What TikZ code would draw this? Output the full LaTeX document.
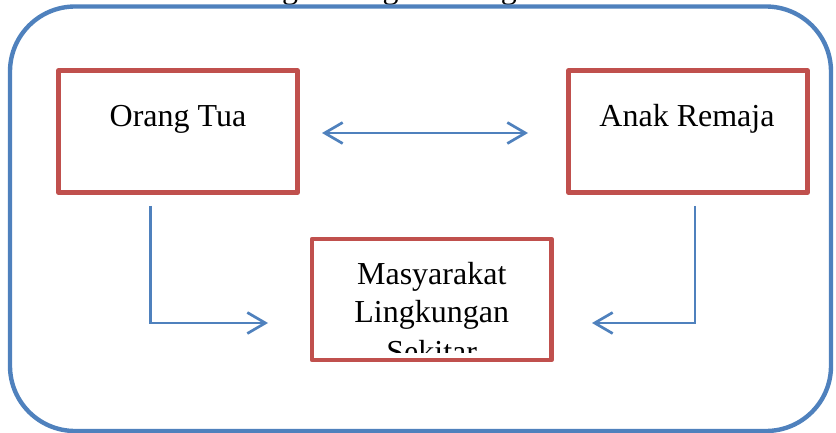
\documentclass[tikz,border=0pt]{standalone}
\usepackage{fontspec}
\setmainfont{Liberation Serif}
\usetikzlibrary{arrows.meta}
\definecolor{boxred}{HTML}{C0504D}
\definecolor{linkblue}{HTML}{4F81BD}
\tikzset{
  frame/.style={draw=linkblue, line width=4.4pt, rounded corners=65pt},
  redbox/.style={draw=boxred, line width=4.6pt, line join=round, inner sep=0pt, outer sep=0pt},
  boxtext/.style={font=\fontsize{32}{38}\selectfont, inner sep=0pt, anchor=base},
  tipbarb/.tip={Straight Barb[length=18pt,width=21pt]},
  link/.style={draw=linkblue, line width=2.7pt, arrows={-tipbarb}},
  dlink/.style={draw=linkblue, line width=2.7pt, arrows={tipbarb-tipbarb}}
}
\begin{document}
\begin{tikzpicture}[x=1pt,y=-1pt]
\useasboundingbox (0,0) rectangle (836,433);
% clipped title at top edge
\node[boxtext, anchor=base west] (title) at (250,-1.5) {ungan dengan Orang Tua};
% outer frame
\draw[frame] (10,6.5) rectangle (831,431);
% boxes
\node[redbox, minimum width=239pt, minimum height=122pt] (ot) at (178,131.5) {};
\node[redbox, minimum width=239pt, minimum height=122pt] (ar) at (688,131.5) {};
\begin{scope}
  \clip (312,239) rectangle (551.5,352);
  \node[boxtext] (ms1) at (431.75,284) {Masyarakat};
  \node[boxtext] (ms2) at (431.75,322) {Lingkungan};
  \node[boxtext] (ms3) at (431.75,362) {Sekitar};
\end{scope}
\node[redbox, minimum width=239.5pt, minimum height=121pt] (ms) at (431.75,299.5) {};
\node[boxtext] (ott) at (178,127) {Orang Tua};
\node[boxtext] (art) at (687,127) {Anak Remaja};
% connectors
\draw[dlink, shorten <=24.5pt, shorten >=40.5pt] ([yshift=-1.5pt]ot.east) -- ([yshift=-1.5pt]ar.west);
\draw[link, shorten <=13.5pt, shorten >=44pt] ([xshift=-27.3pt]ot.south) |- ([yshift=-23.5pt]ms.west);
\draw[link, shorten <=13.5pt, shorten >=40.5pt] ([xshift=7pt]ar.south) |- ([yshift=-23.5pt]ms.east);
\end{tikzpicture}
\end{document}
